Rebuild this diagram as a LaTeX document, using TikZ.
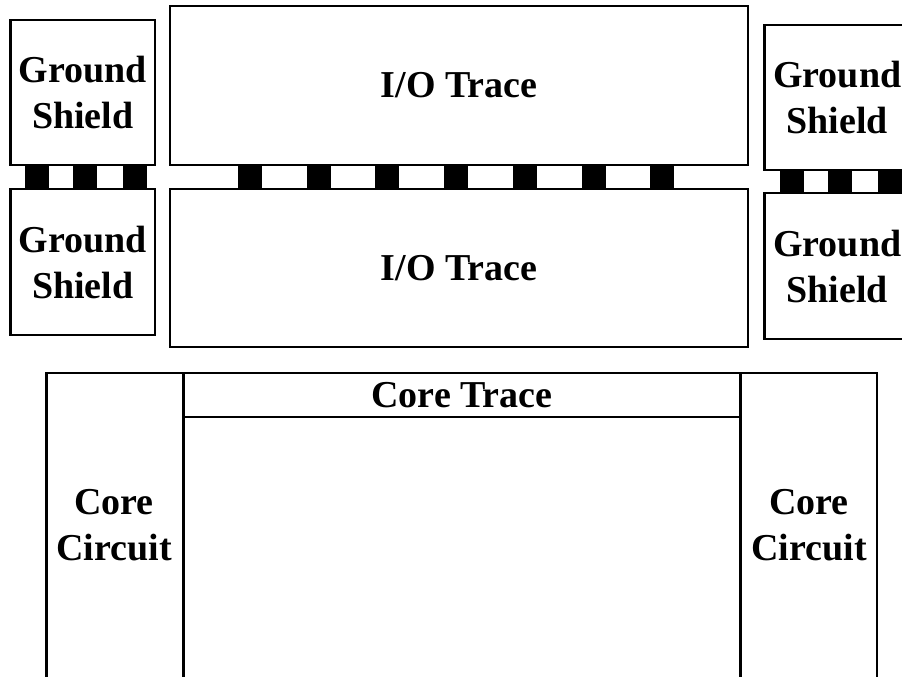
\documentclass[tikz,border=0pt]{standalone}
\usepackage{fontspec}
\setmainfont{Liberation Serif}
\begin{document}
\begin{tikzpicture}[x=1pt,y=-1pt,
  box/.style={draw, line width=2.8pt, inner sep=0pt, align=center,
    font=\bfseries\fontsize{38}{46}\selectfont},
  via/.style={fill=black, draw=none, inner sep=0pt, minimum width=24pt},
  label/.style={inner sep=0pt, align=center, font=\bfseries\fontsize{38}{46}\selectfont}]
\useasboundingbox (0,0) rectangle (902,677);
\clip (0,0) rectangle (902,677);

% upper package layer: ground shields and I/O traces
\node[box, minimum width=144.5pt, minimum height=145pt] (gsLT) at (82.75,92.5) {Ground\\Shield};
\node[box, minimum width=578pt, minimum height=159pt] (ioT) at (459,85.5) {I/O Trace};
\node[box, minimum width=145.5pt, minimum height=145pt] (gsRT) at (837.25,97.5) {Ground\\Shield};

% lower package layer
\node[box, minimum width=144.5pt, minimum height=146pt] (gsLB) at (82.75,262) {Ground\\Shield};
\node[box, minimum width=578pt, minimum height=158pt] (ioB) at (459,268) {I/O Trace};
\node[box, minimum width=145.5pt, minimum height=146pt] (gsRB) at (837.25,266) {Ground\\Shield};

% vias between the two layers
\foreach \x [count=\i] in {37,85,135} {
  \node[via, minimum height=22pt] (vL\i) at (\x,177) {};
}
\foreach \x [count=\i] in {250,319,387,456,525,594,662} {
  \node[via, minimum height=22pt] (vM\i) at (\x,177) {};
}
\foreach \x [count=\i] in {792,840,890} {
  \node[via, minimum height=21pt] (vR\i) at (\x,181.5) {};
}

% core region
\draw[line width=2.8pt] (46.5,740) -- (46.5,373) coordinate (cTL) -- (877,373) coordinate (cTR) -- (877,740);
\coordinate (dL) at (183.5,373);
\coordinate (dR) at (740.5,373);
\draw[line width=2.8pt] (dL) -- (183.5,740);
\draw[line width=2.8pt] (dR) -- (740.5,740);
\draw[line width=2.8pt] (183.5,417) coordinate (tL) -- (740.5,417) coordinate (tR);

\node[label] (coreTrace) at (462,395) {Core Trace};
\node[label] (ccL) at (114,525) {Core\\Circuit};
\node[label] (ccR) at (809,525) {Core\\Circuit};
\end{tikzpicture}
\end{document}
